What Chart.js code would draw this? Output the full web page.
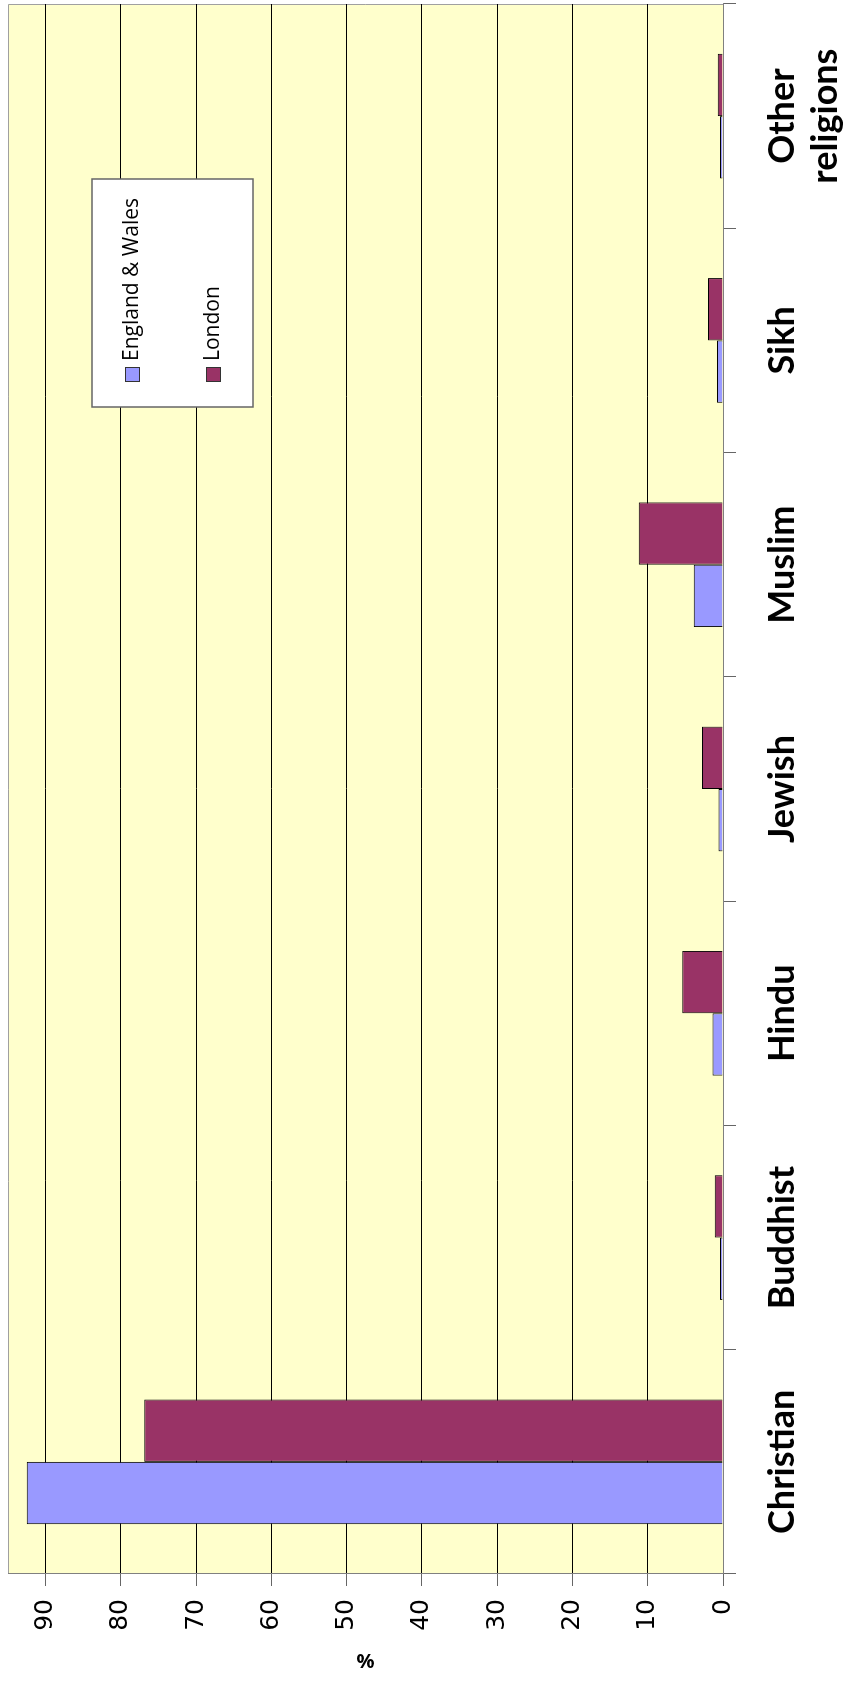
<!doctype html>
<html lang="en">
<head>
  <meta charset="utf-8">
  <title>Religion: England &amp; Wales and London</title>
  <script src="https://cdn.jsdelivr.net/npm/chart.js"></script>
  <style>
    html, body { margin: 0; padding: 0; background: #fff; }
    body { width: 854px; height: 1681px; overflow: hidden; position: relative; }
    /* the chart is drawn landscape and turned a quarter turn left */
    #wrap {
      position: absolute; left: 0; top: 0;
      width: 1681px; height: 854px;
      transform-origin: 0 0;
      transform: translateY(1681px) rotate(-90deg);
    }
  </style>
</head>
<body>
  <div id="wrap"><canvas id="chart" width="1681" height="854"></canvas></div>

  <script>
    const categories   = ['Christian', 'Buddhist', 'Hindu', 'Jewish', 'Muslim', 'Sikh', ['Other', 'religions']];
    const englandWales = [92.5, 0.4, 1.4, 0.6, 3.9, 0.8, 0.4];
    const london       = [76.9, 1.1, 5.4, 2.8, 11.2, 2.0, 0.7];
    const valueTicks   = [0, 10, 20, 30, 40, 50, 60, 70, 80, 90];
    const valueMax     = 95;
    const axisTitle    = '%';

    // yellow plot area with grey frame on the far sides
    const plotBackground = {
      id: 'plotBackground',
      beforeDraw(chart) {
        const { ctx, chartArea: a } = chart;
        ctx.save();
        ctx.fillStyle = '#FFFFCC';
        ctx.fillRect(a.left, a.top, a.right - a.left, a.bottom - a.top);
        ctx.strokeStyle = '#a0a0a0';
        ctx.lineWidth = 1;
        ctx.beginPath();
        ctx.moveTo(a.left, a.top + 0.5);
        ctx.lineTo(a.right - 0.5, a.top + 0.5);
        ctx.lineTo(a.right - 0.5, a.bottom);
        ctx.stroke();
        ctx.restore();
      }
    };

    // boxed legend inside the plot
    const boxLegend = {
      id: 'boxLegend',
      afterDraw(chart) {
        const ctx = chart.ctx;
        const x = 1274, y = 92, w = 228, h = 161;
        ctx.save();
        ctx.fillStyle = '#fff';
        ctx.fillRect(x, y, w, h);
        ctx.strokeStyle = '#666';
        ctx.lineWidth = 1.5;
        ctx.strokeRect(x, y, w, h);
        ctx.font = '21px "Open Sans"';
        ctx.textBaseline = 'middle';
        ctx.textAlign = 'left';
        chart.data.datasets.forEach((ds, i) => {
          const cy = 132.5 + i * 81;
          ctx.fillStyle = ds.backgroundColor;
          ctx.fillRect(1299, cy - 7.5, 15, 15);
          ctx.strokeStyle = '#333';
          ctx.lineWidth = 1;
          ctx.strokeRect(1299.5, cy - 7, 14, 14);
          ctx.fillStyle = '#000';
          ctx.fillText(ds.label, 1320, cy);
        });
        ctx.restore();
      }
    };

    // value axis title, kept upright after the page turn
    const valueTitle = {
      id: 'valueTitle',
      afterDraw(chart) {
        const { ctx, chartArea: a } = chart;
        ctx.save();
        ctx.translate(19, (a.top + a.bottom) / 2);
        ctx.rotate(Math.PI / 2);
        ctx.font = 'bold 20px "Open Sans"';
        ctx.fillStyle = '#000';
        ctx.textAlign = 'center';
        ctx.textBaseline = 'middle';
        ctx.fillText(axisTitle, 0, 0);
        ctx.restore();
      }
    };

    new Chart(document.getElementById('chart'), {
      type: 'bar',
      data: {
        labels: categories,
        datasets: [
          { label: 'England & Wales', data: englandWales, backgroundColor: '#9999FF',
            borderColor: '#000', borderWidth: 1, barPercentage: 1, categoryPercentage: 0.556 },
          { label: 'London', data: london, backgroundColor: '#993366',
            borderColor: '#000', borderWidth: 1, barPercentage: 1, categoryPercentage: 0.556 }
        ]
      },
      options: {
        responsive: false,
        animation: false,
        devicePixelRatio: 1,
        layout: { padding: { top: 8, right: 4, left: 0, bottom: 0 } },
        plugins: { legend: { display: false }, tooltip: { enabled: false } },
        scales: {
          x: {
            afterFit(scale) {
              scale.height = 131;
              scale.paddingLeft = 0;
              scale.paddingRight = 0;
            },
            grid: { drawOnChartArea: false, drawTicks: true, tickLength: 13, tickColor: '#666', offset: true },
            border: { display: true, color: '#808080', width: 1 },
            ticks: {
              color: '#000', padding: 25, maxRotation: 0, autoSkip: false,
              font: { family: 'Lato', weight: 'bold', size: 36, lineHeight: 1.2 }
            }
          },
          y: {
            min: 0, max: valueMax,
            afterFit(scale) {
              scale.width = 107;
              scale.paddingTop = 0;
              scale.paddingBottom = 0;
            },
            afterBuildTicks(scale) { scale.ticks = valueTicks.map(v => ({ value: v })); },
            grid: {
              color: c => (c.tick && c.tick.value === 0) ? '#808080' : '#000',
              lineWidth: 1, tickLength: 12, tickColor: '#666'
            },
            border: { display: true, color: '#808080', width: 1 },
            ticks: {
              color: '#000', padding: 13,
              font: { family: 'DejaVu Sans', size: 25 }
            }
          }
        }
      },
      plugins: [plotBackground, boxLegend, valueTitle]
    });
  </script>
</body>
</html>
